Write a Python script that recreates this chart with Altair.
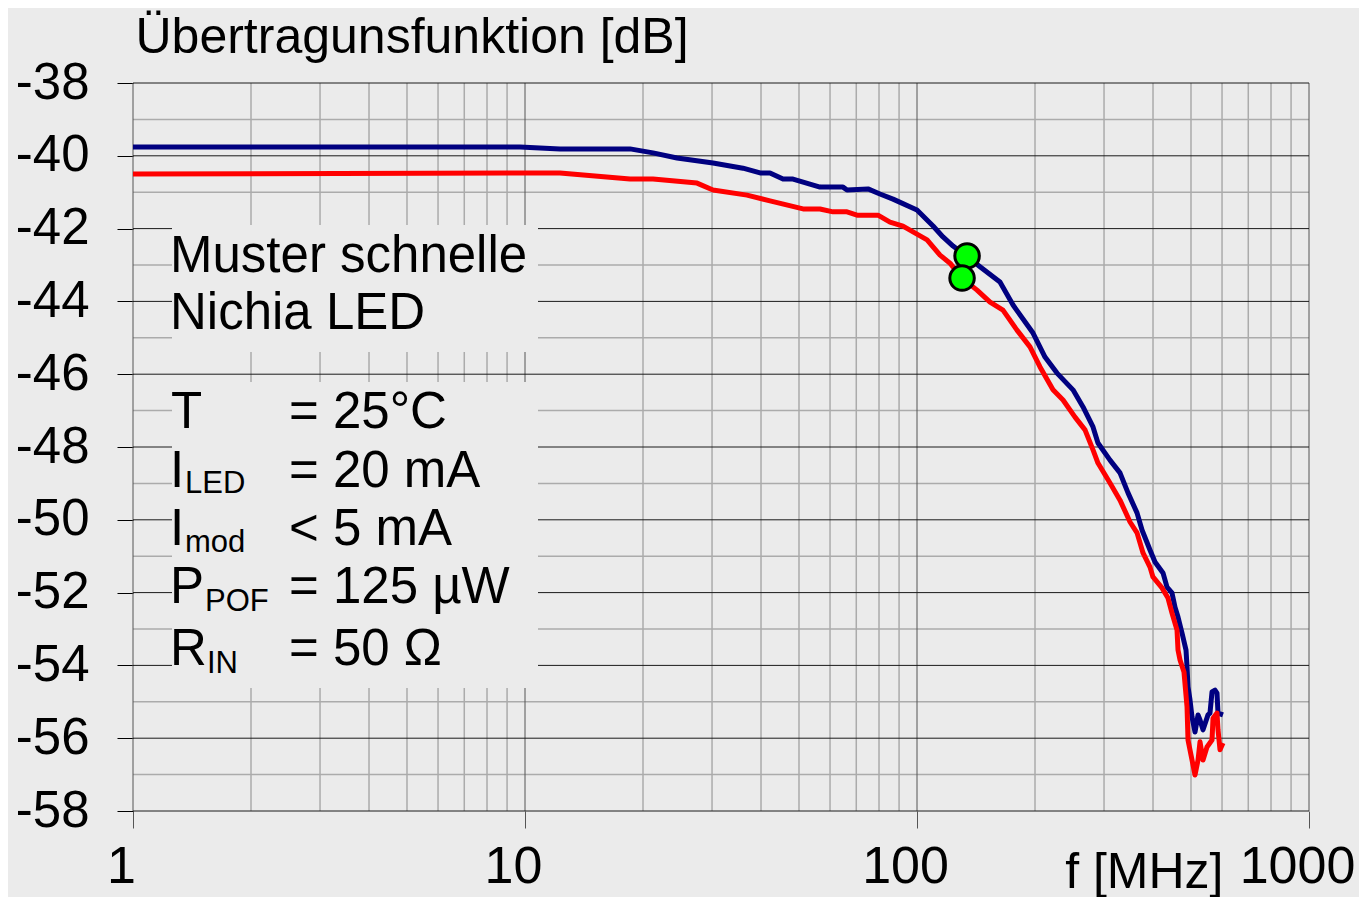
import altair as alt
import pandas as pd

# ---------------- data ----------------
freq_blue = [1, 9.71, 12.28, 18.53, 21.21, 24.42, 30.17, 35.98, 39.78, 42.17,
             45.52, 48.28, 56.56, 64.75, 66.29, 74.99, 80.44, 86.87, 100, 109.9,
             116.5, 123.6, 133.5, 144.8, 162.8, 175.8, 197.7, 212.1, 227.6, 250.0,
             265.2, 281.2, 289.5, 310.7, 329.5, 345.4, 364.2, 375.0, 393.0, 404.7,
             424.2, 434.3, 447.2, 455.2, 463.3, 474.3, 485.6, 488.5, 491.3, 497.1,
             503.0, 511.9, 521.1, 527.2, 536.6, 552.5, 559.0, 565.7, 575.7, 582.5,
             586.0, 603.4]
db_blue = [-39.76, -39.76, -39.81, -39.81, -39.92, -40.06, -40.20, -40.34, -40.47, -40.47,
           -40.64, -40.64, -40.86, -40.86, -40.94, -40.91, -41.05, -41.19, -41.49, -41.93,
           -42.23, -42.48, -42.75, -43.05, -43.47, -44.10, -44.87, -45.53, -45.97, -46.43,
           -46.90, -47.45, -47.89, -48.36, -48.71, -49.26, -49.81, -50.28, -50.83, -51.16,
           -51.46, -51.85, -52.01, -52.40, -52.67, -53.11, -53.58, -54.04, -54.59, -54.95,
           -55.42, -55.83, -55.36, -55.50, -55.77, -55.36, -55.31, -54.73, -54.68, -54.76,
           -55.31, -55.36]

freq_red = [1, 9.71, 12.28, 18.53, 21.21, 27.47, 30.17, 36.84, 42.17, 51.2,
            56.56, 61.07, 66.29, 70.29, 79.5, 85.33, 92.1, 100, 106.1, 114.5,
            121.4, 130.3, 142.3, 153.6, 165.7, 179.9, 194.2, 206.0, 222.3, 235.8,
            253.0, 268.3, 281.2, 289.5, 310.7, 329.5, 349.5, 364.2, 377.2, 393.0,
            399.9, 421.7, 436.8, 447.2, 460.6, 463.3, 468.8, 479.8, 488.5, 491.3,
            503.0, 511.9, 521.1, 527.2, 536.6, 549.3, 565.7, 569.1, 582.5, 586.0,
            592.9, 603.4]
db_red = [-40.50, -40.47, -40.47, -40.64, -40.64, -40.75, -40.94, -41.08, -41.24, -41.46,
          -41.46, -41.54, -41.54, -41.63, -41.63, -41.82, -41.93, -42.15, -42.31, -42.73,
          -42.95, -43.36, -43.69, -44.02, -44.24, -44.79, -45.25, -45.80, -46.43, -46.71,
          -47.18, -47.53, -48.08, -48.44, -48.99, -49.46, -50.06, -50.36, -50.91, -51.30,
          -51.57, -51.87, -52.15, -52.56, -53.03, -53.58, -53.85, -54.18, -55.14, -56.05,
          -56.60, -57.01, -56.60, -56.10, -56.60, -56.24, -56.05, -55.45, -55.31, -55.77,
          -56.32, -56.13]

marker_freq = [134.2, 130.3]
marker_db = [-42.75, -43.36]

x_major = [1, 10, 100, 1000]
x_minor = [2, 3, 4, 5, 6, 7, 8, 9, 20, 30, 40, 50, 60, 70, 80, 90,
           200, 300, 400, 500, 600, 700, 800, 900]
y_major = [-38, -40, -42, -44, -46, -48, -50, -52, -54, -56, -58]
y_minor = [-39, -41, -43, -45, -47, -49, -51, -53, -55, -57]

y_title = "Übertragunsfunktion [dB]"
x_title = "f [MHz]"

# ---------------- styling ----------------
FONT = "Liberation Sans, Arial, Helvetica, sans-serif"
BG = "#EBEBEB"
W, H = 1176, 728

xscale = alt.Scale(type="log", domain=[1, 1000], nice=False)
yscale = alt.Scale(domain=[-58, -38], nice=False, zero=False)

xaxis = alt.Axis(values=x_major, format="d", grid=False, domain=False,
                 ticks=True, tickSize=17, tickColor="#555555", tickWidth=1,
                 labelFont=FONT, labelFontSize=52, labelColor="black",
                 labelPadding=13, labelOffset=-12, labelFlush=False, labelOverlap=False,
                 title=x_title, titleFont=FONT, titleFontSize=50, titleFontWeight="normal",
                 titleColor="black", titleX=1090, titleY=76, titleAlign="right",
                 titleBaseline="alphabetic")
yaxis = alt.Axis(values=y_major, grid=False, domain=False,
                 labelExpr="'-' + abs(datum.value)",
                 ticks=True, tickSize=16, tickColor="black", tickWidth=1,
                 labelFont=FONT, labelFontSize=51, labelColor="black",
                 labelPadding=28, labelFlush=False, labelOverlap=False,
                 title=y_title, titleFont=FONT, titleFontSize=50, titleFontWeight="normal",
                 titleColor="black", titleAngle=0, titleX=2, titleY=-31,
                 titleAlign="left", titleBaseline="alphabetic")

def X():
    return alt.X("f:Q", scale=xscale, axis=xaxis)

def Y():
    return alt.Y("db:Q", scale=yscale, axis=yaxis)

# ---------------- grid ----------------
g_minor_h = alt.Chart(pd.DataFrame({"db": y_minor})).mark_rule(
    color="#ABABAB", strokeWidth=1.5).encode(y=Y())
g_minor_v = alt.Chart(pd.DataFrame({"f": x_minor})).mark_rule(
    color="#ABABAB", strokeWidth=1.5).encode(x=X())
g_major_v = alt.Chart(pd.DataFrame({"f": x_major})).mark_rule(
    color="#555555", strokeWidth=1).encode(x=X())
g_major_h = alt.Chart(pd.DataFrame({"db": y_major})).mark_rule(
    color="#1A1A1A", strokeWidth=1).encode(y=Y())

# ---------------- text boxes ----------------
one = pd.DataFrame({"a": [0]})
box1 = alt.Chart(one).mark_rect(fill=BG).encode(
    x=alt.value(39), x2=alt.value(405), y=alt.value(142), y2=alt.value(269))
box2 = alt.Chart(one).mark_rect(fill=BG).encode(
    x=alt.value(39), x2=alt.value(405), y=alt.value(299), y2=alt.value(605))

# ---------------- curves ----------------
rows = []
for i, (f, d) in enumerate(zip(freq_blue, db_blue)):
    rows.append({"f": f, "db": d, "series": "blau", "idx": i})
for i, (f, d) in enumerate(zip(freq_red, db_red)):
    rows.append({"f": f, "db": d, "series": "rot", "idx": i})
lines_df = pd.DataFrame(rows)

lines = alt.Chart(lines_df).mark_line(strokeWidth=5, strokeJoin="round").encode(
    x=X(), y=Y(),
    color=alt.Color("series:N", scale=alt.Scale(domain=["blau", "rot"],
                                                range=["#000080", "#FF0000"]), legend=None),
    order=alt.Order("idx:Q"))

markers = alt.Chart(pd.DataFrame({"f": marker_freq, "db": marker_db})).mark_point(
    shape="circle", filled=True, fill="#00FF00", stroke="black", strokeWidth=3,
    size=600, opacity=1).encode(x=X(), y=Y())

# ---------------- annotation texts ----------------
def txt(s, x, y, size=51):
    return alt.Chart(one).mark_text(text=s, font=FONT, fontSize=size, color="black",
                                    align="left", baseline="alphabetic").encode(
        x=alt.value(x), y=alt.value(y))

texts = [
    txt("Muster schnelle", 37, 189),
    txt("Nichia LED", 37, 246),
    txt("T", 38, 345), txt("= 25°C", 156, 345),
    txt("I", 37, 404), txt("LED", 52, 410, 31), txt("= 20 mA", 156, 404),
    txt("I", 37, 462), txt("mod", 52, 469, 31), txt("< 5 mA", 156, 462),
    txt("P", 37, 520), txt("POF", 72, 528, 31), txt("= 125 µW", 156, 520),
    txt("R", 37, 582), txt("IN", 74, 590, 31), txt("= 50 Ω", 156, 582),
]

chart = alt.layer(g_minor_h, g_minor_v, g_major_v, g_major_h, box1, box2,
                  lines, markers, *texts).properties(
    width=W, height=H,
    autosize=alt.AutoSizeParams(type="none"),
    padding={"left": 125, "top": 75, "right": 50, "bottom": 86},
    background=BG,
).configure_view(stroke=None)

chart.save("out.html", embed_options={"renderer": "svg", "actions": False})
